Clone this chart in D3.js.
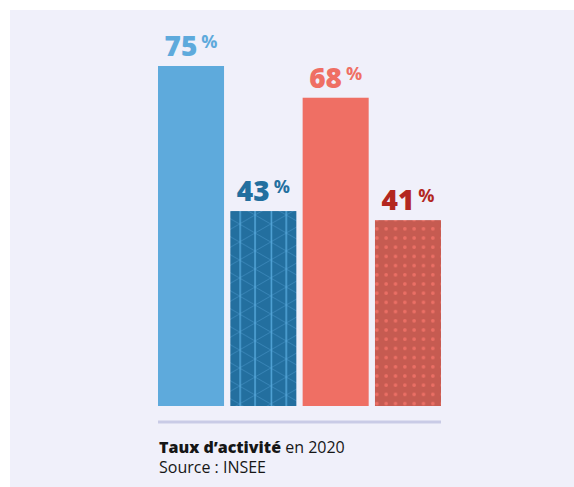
<!DOCTYPE html>
<html>
<head>
<meta charset="utf-8">
<script src="https://cdn.jsdelivr.net/npm/d3@7"></script>
<style>
  html, body { margin: 0; padding: 0; background: #ffffff; }
  svg { display: block; }
</style>
</head>
<body>
<div id="chart"></div>
<script>
// ---- data ----
const categories = ["A", "B", "C", "D"];
const values = [75, 43, 68, 41];
const valueLabels = ["75", "43", "68", "41"];
const unitLabel = "%";
const titleBold = "Taux d’activité";
const titleRest = " en 2020";
const sourceText = "Source : INSEE";

// ---- styles ----
const barFills = ["#5eaadc", "url(#tri)", "#ef6f64", "url(#dots)"];
const labelColors = ["#5eaadc", "#236f9f", "#ef6f64", "#b3271f"];
const FONT = "'Open Sans', 'Noto Sans', sans-serif";

const W = 574, H = 487;
const svg = d3.select("#chart").append("svg").attr("width", W).attr("height", H);

svg.append("rect").attr("x", 10).attr("y", 10).attr("width", W - 10).attr("height", H - 10)
  .attr("fill", "#f0f0fa");

const defs = svg.append("defs");
// triangular grid pattern
const tri = defs.append("pattern").attr("id", "tri").attr("patternUnits", "userSpaceOnUse")
  .attr("x", 230 + 9.5).attr("y", 210 - 4).attr("width", 31.2).attr("height", 18);
tri.append("rect").attr("width", 31.2).attr("height", 18).attr("fill", "#236f9f");
[[0,0,15.6,9],[15.6,9,0,18],[15.6,9,31.2,0],[15.6,9,31.2,18]].forEach(l => {
  tri.append("line").attr("x1", l[0]).attr("y1", l[1]).attr("x2", l[2]).attr("y2", l[3])
    .attr("stroke", "#4f9bd0").attr("stroke-width", 0.8).attr("stroke-opacity", 0.6);
});
[0.6, 15.6].forEach(x => {
  tri.append("line").attr("x1", x).attr("y1", 0).attr("x2", x).attr("y2", 18)
    .attr("stroke", "#5aaee2").attr("stroke-width", 1.3);
});
// dots pattern
const dots = defs.append("pattern").attr("id", "dots").attr("patternUnits", "userSpaceOnUse")
  .attr("x", 381.5).attr("y", 215).attr("width", 9.33).attr("height", 9.2);
dots.append("rect").attr("width", 9.33).attr("height", 9.2).attr("fill", "#c65b51");
dots.append("circle").attr("cx", 4.67).attr("cy", 4.6).attr("r", 1.8).attr("fill", "#ec6f65");

// ---- scales ----
const x = d3.scaleBand().domain(categories).range([158, 441]).paddingInner(0.087).paddingOuter(0);
const y = d3.scaleLinear().domain([0, 75]).range([406, 66]);

// bars
svg.selectAll("rect.bar").data(values).enter().append("rect")
  .attr("class", "bar")
  .attr("x", (d, i) => x(categories[i]))
  .attr("y", d => y(d))
  .attr("width", x.bandwidth())
  .attr("height", d => y(0) - y(d))
  .attr("fill", (d, i) => barFills[i]);

// labels
const lab = svg.selectAll("text.val").data(values).enter().append("text")
  .attr("class", "val")
  .attr("x", (d, i) => x(categories[i]) + x.bandwidth() / 2)
  .attr("y", d => y(d) - 10)
  .attr("text-anchor", "middle")
  .attr("fill", (d, i) => labelColors[i])
  .style("font-family", FONT);
lab.append("tspan").style("font-size", "28px").style("font-weight", 800).text((d, i) => valueLabels[i]);
lab.append("tspan").style("font-size", "18px").style("font-weight", 700)
  .attr("dx", 4).attr("dy", -8).text(unitLabel);

// divider
svg.append("line").attr("x1", 158).attr("x2", 441).attr("y1", 422).attr("y2", 422)
  .attr("stroke", "#c9cbe6").attr("stroke-width", 3);

// caption
const cap = svg.append("text").attr("x", 159).attr("y", 453)
  .style("font-family", FONT).style("font-size", "16px").attr("fill", "#161616");
cap.append("tspan").style("font-weight", 800).text(titleBold);
cap.append("tspan").style("font-weight", 400).text(titleRest);
svg.append("text").attr("x", 159).attr("y", 473)
  .style("font-family", FONT).style("font-size", "16px").attr("fill", "#161616")
  .text(sourceText);
</script>
</body>
</html>
